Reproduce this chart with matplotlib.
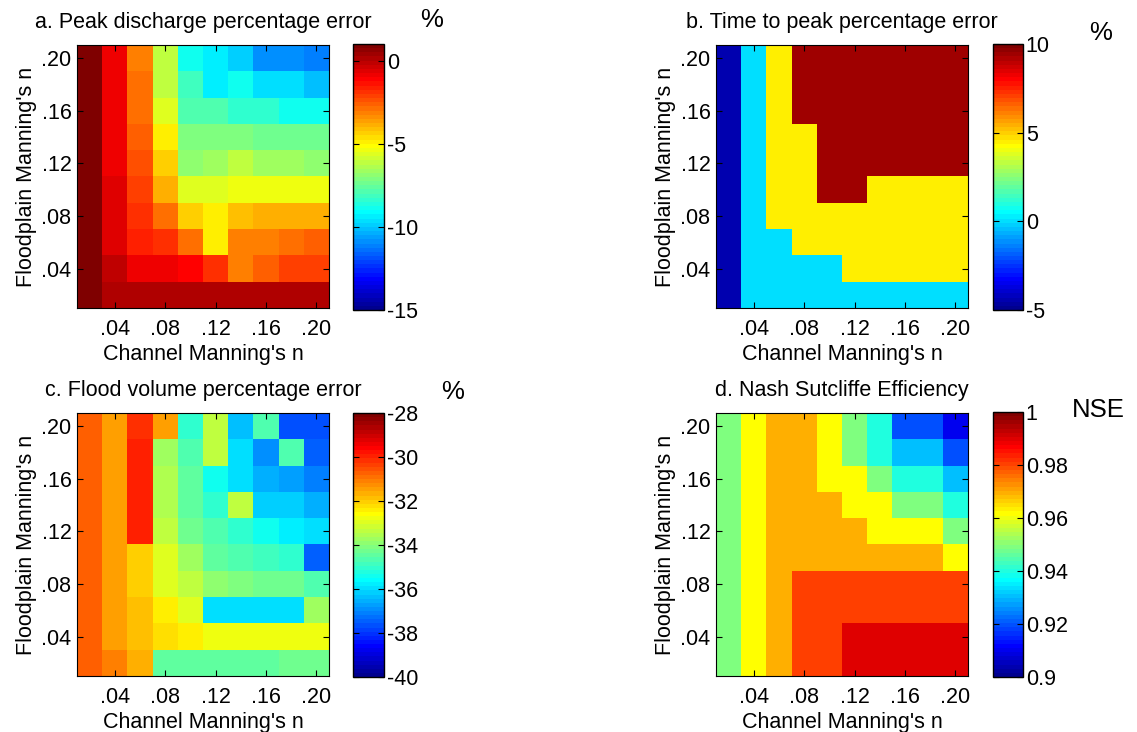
import matplotlib
matplotlib.use('Agg')
import matplotlib.pyplot as plt
from matplotlib.colors import ListedColormap
import numpy as np

plt.rcParams['font.family'] = ['Liberation Sans', 'DejaVu Sans']
plt.rcParams['axes.unicode_minus'] = False

# Manning's n grid (cell centres)
channel_n = [0.02, 0.04, 0.06, 0.08, 0.10, 0.12, 0.14, 0.16, 0.18, 0.20]
floodplain_n = [0.20, 0.18, 0.16, 0.14, 0.12, 0.10, 0.08, 0.06, 0.04, 0.02]  # rows, top to bottom
tick_vals = [0.04, 0.08, 0.12, 0.16, 0.20]
tick_labels = ['.04', '.08', '.12', '.16', '.20']

# a. peak discharge percentage error (%)
peak_err = [
    [0.8, -0.8, -3.2, -6.2, -8.8, -9.5, -10.0, -10.8, -11.0, -11.2],
    [0.8, -0.8, -2.9, -6.2, -8.2, -9.3, -9.0, -9.7, -9.7, -10.2],
    [0.8, -0.8, -2.9, -5.6, -7.8, -8.0, -8.3, -8.5, -8.8, -9.0],
    [0.8, -0.8, -2.7, -5.0, -7.2, -7.2, -7.2, -7.4, -7.5, -7.5],
    [0.8, -0.8, -2.4, -4.3, -6.8, -6.6, -6.2, -6.6, -6.6, -6.8],
    [0.8, -0.6, -2.1, -3.8, -5.7, -5.7, -5.5, -5.5, -5.5, -5.5],
    [0.8, -0.6, -1.9, -3.0, -4.5, -4.8, -4.1, -4.0, -4.0, -3.8],
    [0.8, -0.6, -1.6, -2.0, -2.8, -4.8, -3.2, -3.1, -2.9, -2.7],
    [0.8, -0.1, -0.8, -1.0, -1.2, -1.9, -3.1, -2.7, -2.1, -2.1],
    [0.8, 0.0, 0.0, 0.0, 0.0, 0.0, 0.0, 0.0, 0.0, 0.0],
]

# b. time to peak percentage error (%)
tpeak_err = [
    [-4.5, 0, 4.5, 9.5, 9.5, 9.5, 9.5, 9.5, 9.5, 9.5],
    [-4.5, 0, 4.5, 9.5, 9.5, 9.5, 9.5, 9.5, 9.5, 9.5],
    [-4.5, 0, 4.5, 9.5, 9.5, 9.5, 9.5, 9.5, 9.5, 9.5],
    [-4.5, 0, 4.5, 4.5, 9.5, 9.5, 9.5, 9.5, 9.5, 9.5],
    [-4.5, 0, 4.5, 4.5, 9.5, 9.5, 9.5, 9.5, 9.5, 9.5],
    [-4.5, 0, 4.5, 4.5, 9.5, 9.5, 4.5, 4.5, 4.5, 4.5],
    [-4.5, 0, 4.5, 4.5, 4.5, 4.5, 4.5, 4.5, 4.5, 4.5],
    [-4.5, 0, 0, 4.5, 4.5, 4.5, 4.5, 4.5, 4.5, 4.5],
    [-4.5, 0, 0, 0, 0, 4.5, 4.5, 4.5, 4.5, 4.5],
    [-4.5, 0, 0, 0, 0, 0, 0, 0, 0, 0],
]

# c. flood volume percentage error (%)
vol_err = [
    [-30.8, -31.4, -30.2, -31.4, -35.0, -33.4, -36.4, -34.7, -37.6, -37.7],
    [-30.8, -31.4, -29.9, -33.7, -34.6, -33.3, -36.0, -36.9, -34.7, -37.4],
    [-30.8, -31.4, -29.9, -33.6, -34.4, -35.5, -36.0, -36.6, -36.8, -37.1],
    [-30.8, -31.4, -29.9, -33.6, -34.4, -35.1, -33.4, -36.1, -36.1, -36.5],
    [-30.8, -31.4, -29.9, -33.3, -34.2, -34.7, -35.0, -35.5, -35.7, -35.9],
    [-30.8, -31.4, -32.1, -33.0, -33.8, -34.5, -34.6, -34.9, -35.1, -37.5],
    [-30.8, -31.4, -32.1, -32.9, -33.4, -34.0, -34.1, -34.2, -34.2, -34.7],
    [-30.8, -31.4, -31.9, -32.5, -33.0, -35.9, -35.9, -36.0, -36.0, -33.8],
    [-30.8, -31.4, -31.9, -32.3, -32.5, -32.7, -32.7, -32.7, -32.8, -32.8],
    [-30.8, -31.1, -31.6, -34.4, -34.4, -34.4, -34.4, -34.4, -34.2, -34.2],
]

# d. Nash Sutcliffe efficiency
nse = [
    [0.950, 0.961, 0.970, 0.970, 0.961, 0.950, 0.940, 0.920, 0.920, 0.910],
    [0.950, 0.961, 0.970, 0.970, 0.961, 0.950, 0.940, 0.931, 0.931, 0.920],
    [0.950, 0.961, 0.970, 0.970, 0.961, 0.961, 0.950, 0.940, 0.940, 0.931],
    [0.950, 0.961, 0.970, 0.970, 0.970, 0.961, 0.961, 0.950, 0.950, 0.940],
    [0.950, 0.961, 0.970, 0.970, 0.970, 0.970, 0.961, 0.961, 0.961, 0.950],
    [0.950, 0.961, 0.970, 0.970, 0.970, 0.970, 0.970, 0.970, 0.970, 0.961],
    [0.950, 0.961, 0.970, 0.981, 0.981, 0.981, 0.981, 0.981, 0.981, 0.981],
    [0.950, 0.961, 0.970, 0.981, 0.981, 0.981, 0.981, 0.981, 0.981, 0.981],
    [0.950, 0.961, 0.970, 0.981, 0.981, 0.990, 0.990, 0.990, 0.990, 0.990],
    [0.950, 0.961, 0.970, 0.981, 0.981, 0.990, 0.990, 0.990, 0.990, 0.990],
]

W, H = 1137, 732
FS = 15.5


def matlab_jet(n=64):
    # same layout as MATLAB's jet(n): green ramp starts at row n/8 + 1
    m = int(np.ceil(n / 4))
    u = np.concatenate([np.arange(1, m + 1) / m, np.ones(m - 1), np.arange(m, 0, -1) / m])
    g = (n // 8) + np.arange(1, len(u) + 1)
    r = g + m
    b = g - m
    J = np.zeros((n, 3))
    gk = g[g <= n]
    rk = r[r <= n]
    bk = b[b >= 1]
    J[rk - 1, 0] = u[:len(rk)]
    J[gk - 1, 1] = u[:len(gk)]
    J[bk - 1, 2] = u[len(u) - len(bk):]
    return ListedColormap(J)


JET = matlab_jet(64)


def px(l, t, r, b):
    return [l / W, 1 - b / H, (r - l) / W, (b - t) / H]


def panel(fig, data, clim, cticks, title, unit, ax_box, cb_box, unit_xy):
    ax = fig.add_axes(px(*ax_box))
    step = channel_n[1] - channel_n[0]
    ext = (channel_n[0] - step / 2, channel_n[-1] + step / 2,
           floodplain_n[-1] - step / 2, floodplain_n[0] + step / 2)
    im = ax.imshow(np.array(data), cmap=JET, vmin=clim[0], vmax=clim[1],
                   extent=ext, origin='upper', aspect='auto', interpolation='nearest')
    ax.set_xticks(tick_vals)
    ax.set_xticklabels(tick_labels)
    ax.set_yticks(tick_vals)
    ax.set_yticklabels(tick_labels)
    ax.tick_params(direction='in', top=True, right=True, labelsize=FS, length=4)
    ax.tick_params(axis='x', pad=8)
    ax.tick_params(axis='y', pad=4)
    ax.set_xlabel("Channel Manning's n", fontsize=FS, labelpad=3)
    ax.set_ylabel("Floodplain Manning's n", fontsize=FS, labelpad=3)
    ax.set_title(title, fontsize=FS, pad=12)
    cax = fig.add_axes(px(*cb_box))
    cb = fig.colorbar(im, cax=cax, ticks=cticks)
    cb.ax.tick_params(direction='in', left=True, right=True, labelsize=FS, length=4, pad=2)
    cb.outline.set_linewidth(1.0)
    fig.text(unit_xy[0] / W, 1 - unit_xy[1] / H, unit, fontsize=FS + 3, ha='left', va='center')
    return cb


def work():
    fig = plt.figure(figsize=(W / 100, H / 100), dpi=100)
    panel(fig, peak_err, (-15, 1), [-15, -10, -5, 0],
          'a. Peak discharge percentage error', '%',
          (77, 45, 329, 308), (353, 44, 384, 310), (420, 20))
    panel(fig, tpeak_err, (-5, 10), [-5, 0, 5, 10],
          'b. Time to peak percentage error', '%',
          (716, 45, 968, 308), (993, 44, 1023, 310), (1089, 33))
    panel(fig, vol_err, (-40, -28), [-40, -38, -36, -34, -32, -30, -28],
          'c. Flood volume percentage error', '%',
          (77, 413, 329, 676), (353, 413, 384, 677), (441, 392))
    cb = panel(fig, nse, (0.9, 1.0), [0.9, 0.92, 0.94, 0.96, 0.98, 1.0],
               'd. Nash Sutcliffe Efficiency', 'NSE',
               (716, 413, 968, 676), (993, 412, 1023, 677), (1072, 410))
    cb.ax.set_yticklabels(['0.9', '0.92', '0.94', '0.96', '0.98', '1'])
    fig.savefig('out.png', dpi=100)


if __name__ == '__main__':
    work()
